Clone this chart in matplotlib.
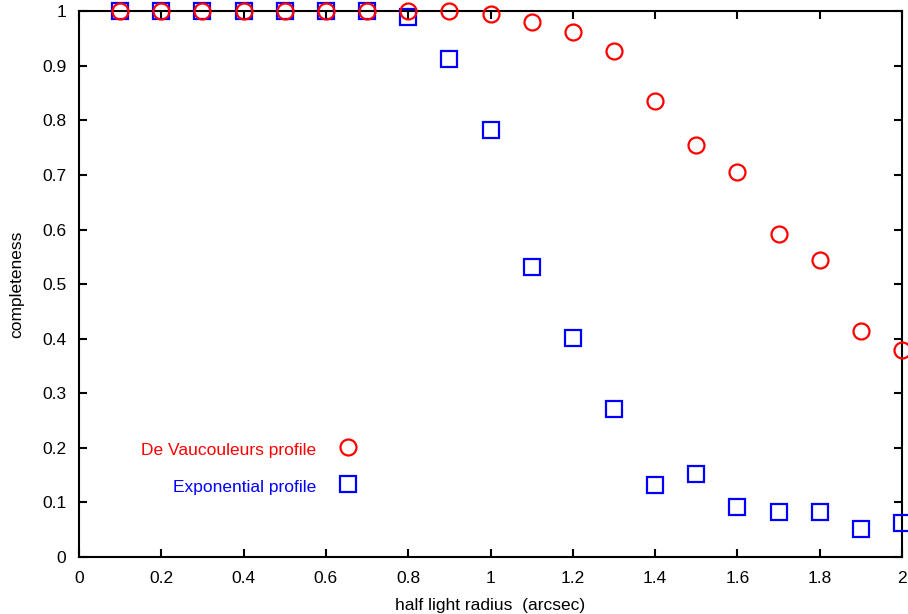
import matplotlib
matplotlib.use("Agg")
import matplotlib.pyplot as plt
import numpy as np

plt.rcParams['font.family'] = ['Liberation Sans', 'DejaVu Sans']

# half light radius (arcsec)
radius = [0.1, 0.2, 0.3, 0.4, 0.5, 0.6, 0.7, 0.8, 0.9, 1.0,
          1.1, 1.2, 1.3, 1.4, 1.5, 1.6, 1.7, 1.8, 1.9, 2.0]
# completeness, De Vaucouleurs profile
devauc = [1.0, 1.0, 1.0, 1.0, 1.0, 1.0, 1.0, 1.0, 1.0, 0.994,
          0.980, 0.962, 0.927, 0.835, 0.755, 0.705, 0.592, 0.544, 0.414, 0.379]
# completeness, exponential profile
expo = [1.0, 1.0, 1.0, 1.0, 1.0, 1.0, 1.0, 0.989, 0.912, 0.782,
        0.531, 0.401, 0.271, 0.132, 0.152, 0.092, 0.082, 0.082, 0.051, 0.062]

fig = plt.figure(figsize=(9.08, 6.14), dpi=100)
ax = fig.add_axes([0.087, 0.0928, 0.9064, 0.889])

ax.plot(radius, expo, linestyle='none', marker='s', ms=11.5, mfc='none',
        mec='blue', mew=1.6, clip_on=False, zorder=3)
ax.plot(radius, devauc, linestyle='none', marker='o', ms=11.5, mfc='none',
        mec='red', mew=1.6, clip_on=False, zorder=4)

# in-plot key
ax.plot([0.654], [0.2015], linestyle='none', marker='o', ms=11.5, mfc='none',
        mec='red', mew=1.6)
ax.plot([0.654], [0.134], linestyle='none', marker='s', ms=11.5, mfc='none',
        mec='blue', mew=1.6)
ax.text(0.576, 0.196, 'De Vaucouleurs profile', color='red', ha='right',
        va='center', fontsize=12.5)
ax.text(0.576, 0.128, 'Exponential profile', color='blue', ha='right',
        va='center', fontsize=12.5)

ax.set_xlim(0, 2)
ax.set_ylim(0, 1)
ax.set_xticks(np.arange(0, 2.01, 0.2))
ax.set_xticklabels(['0', '0.2', '0.4', '0.6', '0.8', '1', '1.2', '1.4', '1.6', '1.8', '2'])
ax.set_yticks(np.arange(0, 1.01, 0.1))
ax.set_yticklabels(['0', '0.1', '0.2', '0.3', '0.4', '0.5', '0.6', '0.7', '0.8', '0.9', '1'])
ax.tick_params(direction='in', top=True, right=True, length=6, width=1.5,
               labelsize=12.5)
ax.tick_params(axis='x', pad=10)
ax.tick_params(axis='y', pad=9)
for lab in ax.get_xticklabels() + ax.get_yticklabels():
    lab.set_fontweight('medium')
for s in ax.spines.values():
    s.set_linewidth(1.5)

ax.set_xlabel('half light radius  (arcsec)', fontsize=12.5, labelpad=9)
ax.set_ylabel('completeness', fontsize=12.5, labelpad=13)

fig.savefig('out.png', dpi=100)
